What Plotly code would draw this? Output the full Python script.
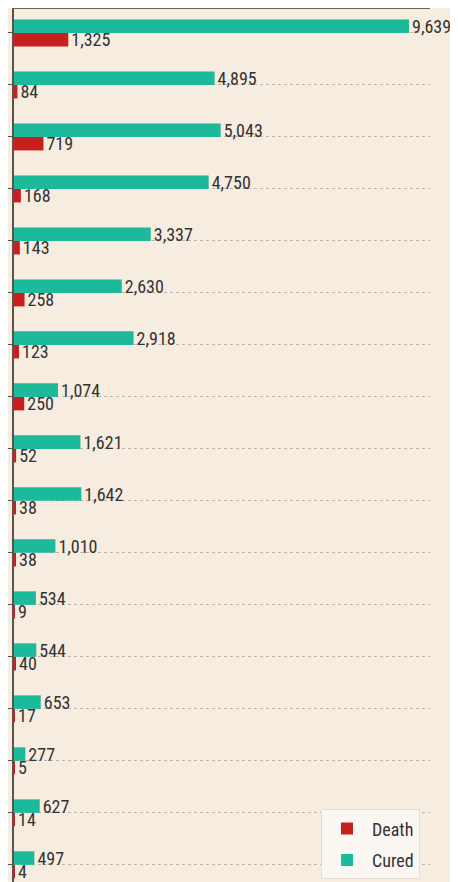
import plotly.graph_objects as go

# top-to-bottom order as displayed
categories = [f"C{i+1}" for i in range(17)]
cured = [9639, 4895, 5043, 4750, 3337, 2630, 2918, 1074, 1621, 1642, 1010, 534, 544, 653, 277, 627, 497]
death = [1325, 84, 719, 168, 143, 258, 123, 250, 52, 38, 38, 9, 40, 17, 5, 14, 4]

FONT = "Liberation Sans Narrow, Roboto Condensed, DejaVu Sans Condensed, Roboto, sans-serif"
BG = "#F6ECDF"
TXT = "#333333"

fig = go.Figure()
fig.add_trace(go.Bar(
    y=categories[::-1], x=death[::-1], name="Death", orientation="h", legendgroup="d",
    marker=dict(color="#C8201F", line=dict(width=0)),
    text=[f"{v:,}" for v in death[::-1]], textposition="outside", constraintext="none",
    textfont=dict(size=18, color=TXT, family=FONT), cliponaxis=False,
))
fig.add_trace(go.Bar(
    y=categories[::-1], x=cured[::-1], name="Cured", orientation="h", legendgroup="c",
    marker=dict(color="#1CB99A", line=dict(width=0)),
    text=[f"{v:,}" for v in cured[::-1]], textposition="outside", constraintext="none",
    textfont=dict(size=18, color=TXT, family=FONT), cliponaxis=False,
))

fig.update_layout(
    width=450, height=874,
    barmode="group", bargap=0.48, bargroupgap=0.0,
    paper_bgcolor=BG, plot_bgcolor=BG,
    margin=dict(l=6, r=28, t=1, b=0, autoexpand=False),
    font=dict(family=FONT, color=TXT),
    showlegend=True,
    legend=dict(
        traceorder="grouped", tracegroupgap=5, itemwidth=40,
        x=0.976, y=0.003, xanchor="right", yanchor="bottom",
        bgcolor="#FBF8F3", bordercolor="#E6DED3", borderwidth=1,
        font=dict(size=18, color=TXT, family=FONT),
    ),
    xaxis=dict(
        range=[0, 10150], side="top", showline=True, linecolor="#6B625A", linewidth=2,
        showticklabels=False, ticks="", showgrid=False, zeroline=False, automargin=False,
    ),
    yaxis=dict(
        range=[-0.33, 16.46], showline=True, linecolor="#5A524B", linewidth=1.5,
        showticklabels=False, ticks="outside", ticklen=8, tickcolor="#5A524B",
        showgrid=True, gridcolor="#BDB5AA", griddash="dot", gridwidth=1,
        zeroline=False, automargin=False,
    ),
)

fig.write_html("out.html")
